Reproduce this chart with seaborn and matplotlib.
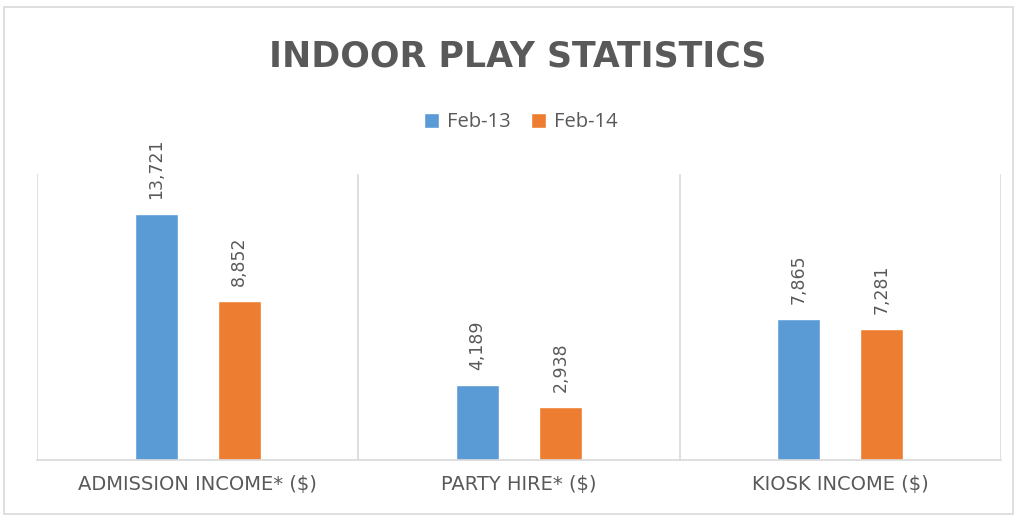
import matplotlib
matplotlib.use("Agg")
import matplotlib.pyplot as plt
import seaborn as sns
import pandas as pd
from matplotlib.patches import Rectangle

categories = ["ADMISSION INCOME* ($)", "PARTY HIRE* ($)", "KIOSK INCOME ($)"]
series = ["Feb-13", "Feb-14"]
feb13 = [13721, 4189, 7865]
feb14 = [8852, 2938, 7281]
colors = ["#5B9BD5", "#ED7D31"]

df = pd.DataFrame({
    "cat": categories * 2,
    "period": [series[0]] * 3 + [series[1]] * 3,
    "value": feb13 + feb14,
})

sns.set_style("white")
plt.rcParams["font.family"] = ["Open Sans", "DejaVu Sans"]

fig = plt.figure(figsize=(10.17, 5.16), dpi=100)
ax = fig.add_axes([0.0364, 0.1085, 0.9479, 0.5543])

sns.barplot(data=df, x="cat", y="value", hue="period", order=categories,
            hue_order=series, palette=colors, width=0.517, gap=0.48,
            saturation=1, ax=ax, legend=True)

ax.set_ylim(0, 15950)
ax.set_xlim(-0.5, 2.5)
ax.set_yticks([])
ax.set_xlabel("")
ax.set_ylabel("")
for s in ["top", "right", "left"]:
    ax.spines[s].set_visible(False)
ax.spines["bottom"].set_color("#D9D9D9")
ax.spines["bottom"].set_linewidth(1.2)
for x in [-0.5, 0.5, 1.5, 2.5]:
    ax.axvline(x, color="#D9D9D9", lw=1.2, zorder=0)
ax.tick_params(axis="x", length=0, pad=11, colors="#595959")
for t in ax.get_xticklabels():
    t.set_fontfamily("DejaVu Sans")
    t.set_fontsize(14)

for cont in ax.containers:
    ax.bar_label(cont, labels=[f"{v:,.0f}" for v in cont.datavalues],
                 rotation=90, padding=11, fontsize=12.5, color="#595959",
                 family="DejaVu Sans")

handles, labels = ax.get_legend_handles_labels()
ax.get_legend().remove()
fig.legend(handles, labels, loc="center", bbox_to_anchor=(0.512, 0.763),
           ncol=2, frameon=False, fontsize=14.5, handlelength=0.75,
           handleheight=0.75, handletextpad=0.4, columnspacing=1.0,
           labelcolor="#595959")

fig.text(0.509, 0.891, "INDOOR PLAY STATISTICS", ha="center", va="center",
         fontsize=25, fontweight="bold", color="#595959", family="DejaVu Sans")

fig.patches.append(Rectangle((0.004, 0.004), 0.992, 0.982, transform=fig.transFigure,
                             fill=False, edgecolor="#D9D9D9", lw=1.2))

fig.savefig("out.png", dpi=100)
